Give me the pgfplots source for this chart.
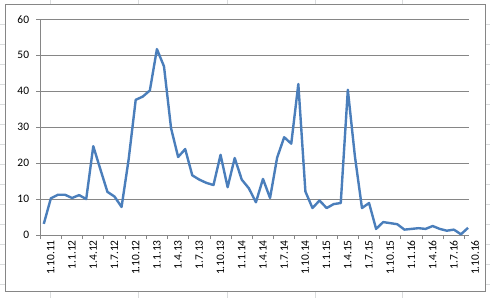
\documentclass[border=0pt]{standalone}
\usepackage{pgfplots}
\pgfplotsset{compat=1.18}
\usepackage{fontspec}
\setmainfont{Carlito}
\definecolor{lineblue}{HTML}{4A7EBB}
\definecolor{gridgray}{HTML}{868686}
\definecolor{sheetgray}{HTML}{DADCDD}
\pgfplotstableread{
m v
0 3.1
1 10.2
2 11.2
3 11.2
4 10.3
5 11.1
6 10.0
7 24.7
8 18.3
9 12.0
10 10.7
11 7.8
12 21.0
13 37.6
14 38.5
15 40.2
16 51.7
17 46.9
18 29.7
19 21.7
20 23.9
21 16.6
22 15.4
23 14.5
24 13.9
25 22.3
26 13.3
27 21.4
28 15.4
29 13.0
30 9.1
31 15.6
32 10.3
33 21.5
34 27.2
35 25.4
36 42.0
37 12.1
38 7.5
39 9.6
40 7.5
41 8.6
42 8.9
43 40.4
44 21.9
45 7.5
46 8.9
47 1.7
48 3.6
49 3.3
50 3.0
51 1.5
52 1.7
53 1.9
54 1.7
55 2.5
56 1.7
57 1.2
58 1.5
59 0.2
60 2.0
}\datatable
\begin{document}
\begin{tikzpicture}[x=1bp,y=1bp]
\fill[white] (0,0) rectangle (490,298);
% spreadsheet background grid
\foreach \xx in {50,138,227,315,402}{\draw[sheetgray,line width=0.6bp] (\xx,0) -- (\xx,298);}
\foreach \yy in {24,44,...,284}{\draw[sheetgray,line width=0.6bp] (0,298-\yy) -- (490,298-\yy);}
% chart area
\draw[fill=white,draw=gridgray,line width=0.8bp] (5,7) rectangle (486,294);
\begin{axis}[
  at={(40bp,63bp)}, anchor=south west,
  scale only axis, width=429bp, height=216bp,
  xmin=-0.5, xmax=60.1, ymin=0, ymax=60,
  axis x line*=bottom, axis y line*=left,
  axis line style={draw=gridgray, line width=0.8bp},
  ytick={0,10,...,60},
  ymajorgrids, grid style={draw=gridgray, line width=0.8bp},
  xtick={0,3,...,60},
  minor xtick={-0.5,2.5,...,59.5},
  xticklabels={1.10.11,1.1.12,1.4.12,1.7.12,1.10.12,1.1.13,1.4.13,1.7.13,1.10.13,1.1.14,1.4.14,1.7.14,1.10.14,1.1.15,1.4.15,1.7.15,1.10.15,1.1.16,1.4.16,1.7.16,1.10.16},
  tick align=outside,
  major tick length=4bp, minor tick length=4bp,
  major x tick style={draw=none},
  minor x tick style={draw=gridgray, line width=0.8bp},
  y tick style={draw=gridgray, line width=0.8bp},
  /pgf/number format/assume math mode=true,
  tick label style={font=\fontsize{11.5}{14}\selectfont, text=black},
  xticklabel style={rotate=90, anchor=east, inner sep=1bp, yshift=-7bp},
  yticklabel style={inner sep=1bp, xshift=-6bp},
  clip=false,
]
\addplot[lineblue, line width=2.4bp, line join=round] table[x=m,y=v] {\datatable};
\end{axis}
\end{tikzpicture}
\end{document}
